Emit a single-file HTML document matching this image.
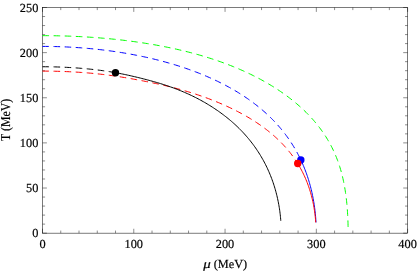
<!DOCTYPE html>
<html><head><meta charset="utf-8"><title>Phase diagram</title>
<style>
html,body{margin:0;padding:0;background:#fff;}
body{width:417px;height:272px;overflow:hidden;font-family:"Liberation Serif",serif;}
svg{display:block;will-change:transform;}
text{text-rendering:geometricPrecision;}
</style></head><body>
<svg width="417" height="272" viewBox="0 0 417 272">
<rect width="417" height="272" fill="#fff"/>
<rect x="42.5" y="7.5" width="365.10" height="225.65" fill="none" stroke="#000" stroke-width="0.52"/>
<g stroke="#000" stroke-width="0.45"><line x1="42.50" y1="233.15" x2="42.50" y2="228.75"/><line x1="42.50" y1="7.5" x2="42.50" y2="11.9"/><line x1="60.76" y1="233.15" x2="60.76" y2="230.55"/><line x1="60.76" y1="7.5" x2="60.76" y2="10.1"/><line x1="79.01" y1="233.15" x2="79.01" y2="230.55"/><line x1="79.01" y1="7.5" x2="79.01" y2="10.1"/><line x1="97.27" y1="233.15" x2="97.27" y2="230.55"/><line x1="97.27" y1="7.5" x2="97.27" y2="10.1"/><line x1="115.52" y1="233.15" x2="115.52" y2="230.55"/><line x1="115.52" y1="7.5" x2="115.52" y2="10.1"/><line x1="133.78" y1="233.15" x2="133.78" y2="228.75"/><line x1="133.78" y1="7.5" x2="133.78" y2="11.9"/><line x1="152.03" y1="233.15" x2="152.03" y2="230.55"/><line x1="152.03" y1="7.5" x2="152.03" y2="10.1"/><line x1="170.29" y1="233.15" x2="170.29" y2="230.55"/><line x1="170.29" y1="7.5" x2="170.29" y2="10.1"/><line x1="188.54" y1="233.15" x2="188.54" y2="230.55"/><line x1="188.54" y1="7.5" x2="188.54" y2="10.1"/><line x1="206.80" y1="233.15" x2="206.80" y2="230.55"/><line x1="206.80" y1="7.5" x2="206.80" y2="10.1"/><line x1="225.05" y1="233.15" x2="225.05" y2="228.75"/><line x1="225.05" y1="7.5" x2="225.05" y2="11.9"/><line x1="243.31" y1="233.15" x2="243.31" y2="230.55"/><line x1="243.31" y1="7.5" x2="243.31" y2="10.1"/><line x1="261.56" y1="233.15" x2="261.56" y2="230.55"/><line x1="261.56" y1="7.5" x2="261.56" y2="10.1"/><line x1="279.82" y1="233.15" x2="279.82" y2="230.55"/><line x1="279.82" y1="7.5" x2="279.82" y2="10.1"/><line x1="298.07" y1="233.15" x2="298.07" y2="230.55"/><line x1="298.07" y1="7.5" x2="298.07" y2="10.1"/><line x1="316.33" y1="233.15" x2="316.33" y2="228.75"/><line x1="316.33" y1="7.5" x2="316.33" y2="11.9"/><line x1="334.58" y1="233.15" x2="334.58" y2="230.55"/><line x1="334.58" y1="7.5" x2="334.58" y2="10.1"/><line x1="352.84" y1="233.15" x2="352.84" y2="230.55"/><line x1="352.84" y1="7.5" x2="352.84" y2="10.1"/><line x1="371.09" y1="233.15" x2="371.09" y2="230.55"/><line x1="371.09" y1="7.5" x2="371.09" y2="10.1"/><line x1="389.35" y1="233.15" x2="389.35" y2="230.55"/><line x1="389.35" y1="7.5" x2="389.35" y2="10.1"/><line x1="407.60" y1="233.15" x2="407.60" y2="228.75"/><line x1="407.60" y1="7.5" x2="407.60" y2="11.9"/><line x1="42.5" y1="233.15" x2="46.9" y2="233.15"/><line x1="407.6" y1="233.15" x2="403.20000000000005" y2="233.15"/><line x1="42.5" y1="224.12" x2="45.1" y2="224.12"/><line x1="407.6" y1="224.12" x2="405.0" y2="224.12"/><line x1="42.5" y1="215.10" x2="45.1" y2="215.10"/><line x1="407.6" y1="215.10" x2="405.0" y2="215.10"/><line x1="42.5" y1="206.07" x2="45.1" y2="206.07"/><line x1="407.6" y1="206.07" x2="405.0" y2="206.07"/><line x1="42.5" y1="197.05" x2="45.1" y2="197.05"/><line x1="407.6" y1="197.05" x2="405.0" y2="197.05"/><line x1="42.5" y1="188.02" x2="46.9" y2="188.02"/><line x1="407.6" y1="188.02" x2="403.20000000000005" y2="188.02"/><line x1="42.5" y1="178.99" x2="45.1" y2="178.99"/><line x1="407.6" y1="178.99" x2="405.0" y2="178.99"/><line x1="42.5" y1="169.97" x2="45.1" y2="169.97"/><line x1="407.6" y1="169.97" x2="405.0" y2="169.97"/><line x1="42.5" y1="160.94" x2="45.1" y2="160.94"/><line x1="407.6" y1="160.94" x2="405.0" y2="160.94"/><line x1="42.5" y1="151.92" x2="45.1" y2="151.92"/><line x1="407.6" y1="151.92" x2="405.0" y2="151.92"/><line x1="42.5" y1="142.89" x2="46.9" y2="142.89"/><line x1="407.6" y1="142.89" x2="403.20000000000005" y2="142.89"/><line x1="42.5" y1="133.86" x2="45.1" y2="133.86"/><line x1="407.6" y1="133.86" x2="405.0" y2="133.86"/><line x1="42.5" y1="124.84" x2="45.1" y2="124.84"/><line x1="407.6" y1="124.84" x2="405.0" y2="124.84"/><line x1="42.5" y1="115.81" x2="45.1" y2="115.81"/><line x1="407.6" y1="115.81" x2="405.0" y2="115.81"/><line x1="42.5" y1="106.79" x2="45.1" y2="106.79"/><line x1="407.6" y1="106.79" x2="405.0" y2="106.79"/><line x1="42.5" y1="97.76" x2="46.9" y2="97.76"/><line x1="407.6" y1="97.76" x2="403.20000000000005" y2="97.76"/><line x1="42.5" y1="88.73" x2="45.1" y2="88.73"/><line x1="407.6" y1="88.73" x2="405.0" y2="88.73"/><line x1="42.5" y1="79.71" x2="45.1" y2="79.71"/><line x1="407.6" y1="79.71" x2="405.0" y2="79.71"/><line x1="42.5" y1="70.68" x2="45.1" y2="70.68"/><line x1="407.6" y1="70.68" x2="405.0" y2="70.68"/><line x1="42.5" y1="61.66" x2="45.1" y2="61.66"/><line x1="407.6" y1="61.66" x2="405.0" y2="61.66"/><line x1="42.5" y1="52.63" x2="46.9" y2="52.63"/><line x1="407.6" y1="52.63" x2="403.20000000000005" y2="52.63"/><line x1="42.5" y1="43.60" x2="45.1" y2="43.60"/><line x1="407.6" y1="43.60" x2="405.0" y2="43.60"/><line x1="42.5" y1="34.58" x2="45.1" y2="34.58"/><line x1="407.6" y1="34.58" x2="405.0" y2="34.58"/><line x1="42.5" y1="25.55" x2="45.1" y2="25.55"/><line x1="407.6" y1="25.55" x2="405.0" y2="25.55"/><line x1="42.5" y1="16.53" x2="45.1" y2="16.53"/><line x1="407.6" y1="16.53" x2="405.0" y2="16.53"/><line x1="42.5" y1="7.50" x2="46.9" y2="7.50"/><line x1="407.6" y1="7.50" x2="403.20000000000005" y2="7.50"/></g>
<path d="M42.50,35.66 L44.07,35.66 L45.64,35.66 L47.21,35.67 L48.78,35.68 L50.35,35.70 L51.92,35.72 L53.49,35.74 L55.06,35.76 L56.62,35.79 L58.19,35.82 L59.76,35.86 L61.33,35.90 L62.90,35.94 L64.47,35.98 L66.04,36.03 L67.61,36.08 L69.18,36.14 L70.74,36.20 L72.31,36.26 L73.88,36.33 L75.45,36.40 L77.02,36.47 L78.58,36.54 L80.15,36.62 L81.72,36.71 L83.29,36.79 L84.85,36.88 L86.42,36.98 L87.99,37.07 L89.55,37.17 L91.12,37.28 L92.68,37.39 L94.25,37.50 L95.81,37.61 L97.38,37.73 L98.94,37.85 L100.51,37.98 L102.07,38.11 L103.64,38.24 L105.20,38.38 L106.76,38.52 L108.33,38.66 L109.89,38.81 L111.45,38.96 L113.01,39.12 L114.57,39.28 L116.13,39.44 L117.70,39.61 L119.26,39.78 L120.81,39.96 L122.37,40.14 L123.93,40.32 L125.49,40.51 L127.05,40.70 L128.61,40.90 L130.16,41.10 L131.72,41.30 L133.27,41.51 L134.83,41.72 L136.38,41.94 L137.94,42.16 L139.49,42.39 L141.04,42.62 L142.60,42.85 L144.15,43.09 L145.70,43.34 L147.25,43.58 L148.80,43.84 L150.34,44.09 L151.89,44.36 L153.44,44.62 L154.98,44.89 L156.53,45.17 L158.07,45.45 L159.62,45.74 L161.16,46.03 L162.70,46.32 L164.24,46.62 L165.78,46.93 L167.32,47.24 L168.86,47.55 L170.39,47.87 L171.93,48.20 L173.46,48.53 L174.99,48.87 L176.53,49.21 L178.06,49.56 L179.59,49.91 L181.11,50.27 L182.64,50.63 L184.17,51.00 L185.69,51.38 L187.21,51.76 L188.73,52.15 L190.25,52.54 L191.77,52.94 L193.29,53.34 L194.80,53.75 L196.32,54.17 L197.83,54.59 L199.34,55.02 L200.85,55.45 L202.35,55.89 L203.86,56.34 L205.36,56.80 L206.86,57.26 L208.36,57.72 L209.85,58.19 L211.35,58.67 L212.84,59.16 L214.33,59.65 L215.82,60.15 L217.30,60.66 L218.79,61.17 L220.27,61.69 L221.75,62.22 L223.22,62.76 L224.70,63.30 L226.17,63.85 L227.63,64.40 L229.10,64.97 L230.56,65.54 L232.02,66.12 L233.47,66.70 L234.93,67.30 L236.38,67.90 L237.82,68.50 L239.27,69.12 L240.71,69.75 L242.14,70.38 L243.58,71.02 L245.01,71.67 L246.43,72.32 L247.85,72.99 L249.27,73.66 L250.69,74.34 L252.10,75.03 L253.50,75.73 L254.91,76.43 L256.30,77.14 L257.70,77.87 L259.08,78.60 L260.47,79.34 L261.85,80.09 L263.22,80.85 L264.59,81.61 L265.96,82.39 L267.32,83.17 L268.67,83.97 L270.02,84.77 L271.36,85.58 L272.70,86.40 L274.03,87.23 L275.36,88.07 L276.68,88.92 L277.99,89.78 L279.30,90.65 L280.60,91.53 L281.89,92.42 L283.18,93.32 L284.46,94.22 L285.73,95.14 L287.00,96.07 L288.25,97.01 L289.50,97.96 L290.75,98.92 L291.98,99.89 L293.21,100.87 L294.42,101.86 L295.63,102.86 L296.83,103.87 L298.02,104.89 L299.21,105.93 L300.38,106.97 L301.54,108.02 L302.69,109.09 L303.83,110.17 L304.96,111.26 L306.09,112.35 L307.19,113.46 L308.29,114.59 L309.38,115.72 L310.45,116.86 L311.52,118.02 L312.57,119.18 L313.61,120.36 L314.63,121.55 L315.64,122.75 L316.64,123.96 L317.62,125.18 L318.59,126.42 L319.55,127.66 L320.49,128.92 L321.42,130.18 L322.33,131.46 L323.23,132.75 L324.11,134.05 L324.97,135.36 L325.82,136.68 L326.65,138.01 L327.47,139.35 L328.27,140.70 L329.05,142.06 L329.81,143.43 L330.56,144.81 L331.29,146.20 L332.01,147.60 L332.70,149.01 L333.38,150.42 L334.04,151.85 L334.68,153.28 L335.31,154.72 L335.91,156.17 L336.50,157.62 L337.07,159.08 L337.63,160.55 L338.16,162.03 L338.68,163.51 L339.18,164.99 L339.67,166.49 L340.13,167.99 L340.58,169.49 L341.02,171.00 L341.43,172.51 L341.84,174.03 L342.22,175.55 L342.59,177.07 L342.95,178.60 L343.29,180.14 L343.61,181.67 L343.92,183.21 L344.22,184.75 L344.50,186.29 L344.77,187.84 L345.03,189.39 L345.28,190.94 L345.51,192.49 L345.73,194.04 L345.94,195.60 L346.13,197.16 L346.32,198.72 L346.49,200.28 L346.66,201.84 L346.81,203.40 L346.96,204.96 L347.09,206.52 L347.22,208.09 L347.34,209.65 L347.44,211.22 L347.54,212.79 L347.63,214.35 L347.72,215.92 L347.79,217.49 L347.86,219.06 L347.92,220.62 L347.97,222.19 L348.02,223.76 L348.05,225.33 L348.08,226.90" fill="none" stroke="#00ff00" stroke-width="1.0" stroke-dasharray="6.565 4.545"/><path d="M42.50,46.41 L44.00,46.41 L45.50,46.42 L47.00,46.43 L48.50,46.44 L49.99,46.46 L51.49,46.49 L52.99,46.51 L54.49,46.55 L55.99,46.58 L57.49,46.62 L58.98,46.67 L60.48,46.72 L61.98,46.77 L63.48,46.83 L64.98,46.89 L66.47,46.96 L67.97,47.03 L69.47,47.11 L70.96,47.19 L72.46,47.27 L73.96,47.36 L75.45,47.46 L76.95,47.55 L78.44,47.66 L79.94,47.76 L81.43,47.87 L82.93,47.99 L84.42,48.11 L85.91,48.24 L87.41,48.36 L88.90,48.50 L90.39,48.64 L91.88,48.78 L93.38,48.93 L94.87,49.08 L96.36,49.23 L97.85,49.39 L99.34,49.56 L100.83,49.73 L102.32,49.90 L103.80,50.08 L105.29,50.27 L106.78,50.46 L108.26,50.65 L109.75,50.85 L111.23,51.05 L112.72,51.26 L114.20,51.47 L115.69,51.69 L117.17,51.91 L118.65,52.14 L120.13,52.37 L121.61,52.60 L123.09,52.85 L124.57,53.09 L126.05,53.34 L127.52,53.60 L129.00,53.86 L130.47,54.13 L131.95,54.40 L133.42,54.67 L134.89,54.96 L136.36,55.24 L137.83,55.53 L139.30,55.83 L140.77,56.13 L142.24,56.44 L143.70,56.75 L145.17,57.07 L146.63,57.39 L148.09,57.72 L149.56,58.06 L151.02,58.40 L152.47,58.74 L153.93,59.09 L155.39,59.45 L156.84,59.81 L158.30,60.18 L159.75,60.55 L161.20,60.93 L162.65,61.31 L164.09,61.70 L165.54,62.10 L166.98,62.50 L168.42,62.91 L169.87,63.32 L171.30,63.74 L172.74,64.17 L174.18,64.60 L175.61,65.03 L177.04,65.48 L178.47,65.93 L179.90,66.39 L181.32,66.85 L182.75,67.32 L184.17,67.79 L185.59,68.28 L187.01,68.76 L188.42,69.26 L189.83,69.76 L191.24,70.27 L192.65,70.78 L194.05,71.31 L195.46,71.84 L196.86,72.37 L198.25,72.91 L199.65,73.46 L201.04,74.02 L202.43,74.58 L203.81,75.16 L205.20,75.74 L206.58,76.32 L207.95,76.91 L209.33,77.52 L210.70,78.12 L212.06,78.74 L213.42,79.36 L214.78,79.99 L216.14,80.63 L217.49,81.28 L218.84,81.94 L220.18,82.60 L221.52,83.27 L222.86,83.95 L224.19,84.64 L225.52,85.33 L226.84,86.04 L228.16,86.75 L229.48,87.47 L230.78,88.20 L232.09,88.94 L233.39,89.68 L234.68,90.44 L235.97,91.20 L237.26,91.98 L238.54,92.76 L239.81,93.55 L241.08,94.35 L242.34,95.16 L243.59,95.98 L244.84,96.81 L246.08,97.64 L247.32,98.49 L248.55,99.35 L249.77,100.21 L250.99,101.09 L252.20,101.97 L253.40,102.87 L254.60,103.77 L255.79,104.69 L256.97,105.61 L258.14,106.54 L259.30,107.49 L260.46,108.44 L261.61,109.40 L262.75,110.38 L263.88,111.36 L265.00,112.35 L266.11,113.36 L267.22,114.37 L268.31,115.39 L269.40,116.43 L270.48,117.47 L271.54,118.53 L272.60,119.59 L273.64,120.66 L274.68,121.75 L275.70,122.84 L276.72,123.94 L277.72,125.06 L278.71,126.18 L279.69,127.31 L280.66,128.46 L281.62,129.61 L282.57,130.77 L283.50,131.94 L284.43,133.12 L285.34,134.31 L286.23,135.51 L287.12,136.72 L287.99,137.94 L288.85,139.17 L289.70,140.40 L290.54,141.65 L291.36,142.90 L292.17,144.16 L292.96,145.43 L293.75,146.71 L294.52,148.00 L295.27,149.29 L296.01,150.60 L296.74,151.91 L297.46,153.22 L298.16,154.55 L298.85,155.88 L299.52,157.22 L300.18,158.56 L300.83,159.92" fill="none" stroke="#0000ff" stroke-width="1.0" stroke-dasharray="6.545 4.531"/><path d="M300.83,159.92 L301.46,161.28 L302.08,162.65 L302.69,164.03 L303.28,165.41 L303.86,166.80 L304.43,168.19 L304.98,169.59 L305.51,171.00 L306.04,172.41 L306.55,173.83 L307.04,175.25 L307.53,176.67 L307.99,178.10 L308.45,179.54 L308.89,180.97 L309.32,182.42 L309.73,183.86 L310.13,185.31 L310.52,186.77 L310.90,188.23 L311.26,189.69 L311.61,191.15 L311.94,192.62 L312.26,194.09 L312.57,195.56 L312.87,197.03 L313.15,198.51 L313.42,199.99 L313.68,201.47 L313.93,202.96 L314.16,204.45 L314.38,205.93 L314.59,207.42 L314.79,208.92 L314.97,210.41 L315.14,211.90 L315.30,213.40 L315.45,214.90 L315.59,216.40 L315.71,217.90 L315.82,219.40 L315.92,220.90 L316.01,222.40" fill="none" stroke="#0000ff" stroke-width="1.0"/><path d="M42.50,71.10 L44.00,71.10 L45.49,71.11 L46.99,71.12 L48.49,71.13 L49.99,71.15 L51.48,71.17 L52.98,71.20 L54.48,71.22 L55.97,71.26 L57.47,71.30 L58.97,71.34 L60.46,71.38 L61.96,71.43 L63.45,71.49 L64.95,71.54 L66.45,71.61 L67.94,71.67 L69.44,71.74 L70.93,71.82 L72.43,71.89 L73.92,71.97 L75.42,72.06 L76.91,72.15 L78.40,72.24 L79.90,72.34 L81.39,72.45 L82.89,72.55 L84.38,72.67 L85.87,72.78 L87.36,72.90 L88.85,73.03 L90.35,73.16 L91.84,73.29 L93.33,73.43 L94.82,73.58 L96.31,73.73 L97.80,73.88 L99.28,74.04 L100.77,74.21 L102.26,74.38 L103.75,74.55 L105.23,74.74 L106.72,74.92 L108.20,75.11 L109.69,75.31 L111.17,75.51 L112.65,75.72 L114.14,75.93 L115.62,76.15 L117.10,76.37 L118.58,76.59 L120.06,76.82 L121.53,77.06 L123.01,77.30 L124.49,77.54 L125.97,77.79 L127.44,78.04 L128.92,78.30 L130.39,78.56 L131.86,78.82 L133.34,79.09 L134.81,79.36 L136.28,79.63 L137.75,79.90 L139.23,80.18 L140.70,80.46 L142.17,80.75 L143.64,81.03 L145.10,81.32 L146.57,81.61 L148.04,81.90 L149.51,82.20 L150.98,82.50 L152.44,82.80 L153.91,83.11 L155.37,83.42 L156.84,83.73 L158.30,84.05 L159.76,84.37 L161.22,84.70 L162.68,85.03 L164.14,85.37 L165.60,85.71 L167.05,86.06 L168.51,86.41 L169.96,86.77 L171.41,87.13 L172.87,87.50 L174.31,87.87 L175.76,88.25 L177.21,88.64 L178.65,89.03 L180.10,89.43 L181.54,89.83 L182.98,90.24 L184.42,90.66 L185.85,91.08 L187.29,91.51 L188.72,91.94 L190.15,92.38 L191.58,92.83 L193.01,93.28 L194.43,93.74 L195.86,94.20 L197.28,94.67 L198.70,95.15 L200.11,95.63 L201.53,96.12 L202.94,96.62 L204.35,97.12 L205.76,97.63 L207.16,98.15 L208.56,98.67 L209.96,99.20 L211.36,99.74 L212.76,100.29 L214.15,100.84 L215.54,101.39 L216.92,101.96 L218.31,102.53 L219.69,103.11 L221.06,103.70 L222.44,104.29 L223.81,104.90 L225.18,105.51 L226.54,106.12 L227.90,106.75 L229.26,107.38 L230.61,108.02 L231.96,108.67 L233.30,109.33 L234.65,109.99 L235.98,110.67 L237.32,111.35 L238.64,112.04 L239.97,112.74 L241.29,113.45 L242.60,114.16 L243.91,114.89 L245.22,115.62 L246.51,116.37 L247.81,117.12 L249.10,117.88 L250.38,118.66 L251.65,119.44 L252.93,120.23 L254.19,121.03 L255.45,121.84 L256.70,122.67 L257.94,123.50 L259.18,124.34 L260.41,125.19 L261.63,126.06 L262.85,126.93 L264.05,127.82 L265.25,128.71 L266.44,129.62 L267.63,130.54 L268.80,131.47 L269.96,132.41 L271.12,133.37 L272.26,134.33 L273.40,135.31 L274.52,136.30 L275.63,137.30 L276.74,138.31 L277.83,139.34 L278.91,140.37 L279.98,141.42 L281.03,142.48 L282.08,143.55 L283.11,144.64 L284.13,145.73 L285.14,146.84 L286.13,147.96 L287.11,149.09 L288.08,150.23 L289.03,151.39 L289.97,152.56 L290.89,153.74 L291.80,154.93 L292.69,156.13 L293.57,157.34 L294.43,158.56 L295.28,159.80 L296.11,161.05 L296.92,162.30 L297.72,163.57" fill="none" stroke="#ff0000" stroke-width="1.0" stroke-dasharray="6.545 4.531"/><path d="M297.72,163.57 L298.51,164.86 L299.28,166.17 L300.03,167.48 L300.77,168.81 L301.49,170.14 L302.19,171.48 L302.88,172.84 L303.54,174.20 L304.19,175.57 L304.82,176.95 L305.43,178.33 L306.03,179.73 L306.60,181.13 L307.16,182.54 L307.70,183.96 L308.22,185.38 L308.72,186.81 L309.21,188.25 L309.68,189.69 L310.13,191.13 L310.56,192.59 L310.98,194.05 L311.37,195.51 L311.75,196.98 L312.12,198.45 L312.47,199.92 L312.80,201.40 L313.11,202.88 L313.41,204.37 L313.69,205.86 L313.95,207.35 L314.20,208.85 L314.43,210.35 L314.65,211.85 L314.85,213.35 L315.03,214.85 L315.20,216.36 L315.36,217.87 L315.50,219.38 L315.62,220.89 L315.74,222.40" fill="none" stroke="#ff0000" stroke-width="1.0"/><path d="M42.50,66.74 L44.00,66.74 L45.49,66.75 L46.99,66.76 L48.48,66.77 L49.98,66.80 L51.48,66.82 L52.97,66.85 L54.47,66.89 L55.96,66.93 L57.46,66.97 L58.95,67.02 L60.45,67.07 L61.94,67.13 L63.44,67.20 L64.93,67.26 L66.43,67.34 L67.92,67.41 L69.41,67.50 L70.91,67.58 L72.40,67.68 L73.89,67.77 L75.38,67.87 L76.88,67.98 L78.37,68.09 L79.86,68.21 L81.35,68.33 L82.84,68.46 L84.33,68.59 L85.82,68.72 L87.31,68.87 L88.80,69.01 L90.29,69.17 L91.77,69.32 L93.26,69.49 L94.75,69.66 L96.23,69.83 L97.72,70.01 L99.20,70.20 L100.69,70.39 L102.17,70.59 L103.65,70.79 L105.13,71.01 L106.61,71.22 L108.09,71.45 L109.57,71.68 L111.05,71.92 L112.52,72.17 L114.00,72.42 L115.47,72.68" fill="none" stroke="#000000" stroke-width="1.0" stroke-dasharray="6.545 4.531"/><path d="M115.47,72.68 L116.94,72.95 L118.42,73.22 L119.89,73.50 L121.36,73.79 L122.83,74.09 L124.30,74.39 L125.76,74.70 L127.23,75.01 L128.69,75.33 L130.16,75.66 L131.62,75.99 L133.08,76.33 L134.54,76.67 L136.00,77.02 L137.45,77.37 L138.91,77.73 L140.36,78.09 L141.82,78.45 L143.27,78.82 L144.72,79.19 L146.17,79.57 L147.62,79.95 L149.07,80.34 L150.52,80.73 L151.96,81.13 L153.40,81.53 L154.85,81.94 L156.29,82.35 L157.73,82.77 L159.16,83.20 L160.60,83.64 L162.03,84.08 L163.46,84.53 L164.88,84.99 L166.31,85.46 L167.73,85.93 L169.15,86.42 L170.56,86.91 L171.97,87.41 L173.38,87.93 L174.79,88.45 L176.19,88.98 L177.59,89.52 L178.98,90.07 L180.37,90.63 L181.76,91.20 L183.14,91.78 L184.52,92.36 L185.89,92.96 L187.26,93.57 L188.63,94.19 L189.99,94.82 L191.34,95.46 L192.70,96.11 L194.04,96.77 L195.38,97.44 L196.72,98.12 L198.05,98.81 L199.37,99.51 L200.69,100.22 L202.00,100.95 L203.31,101.68 L204.61,102.42 L205.91,103.17 L207.20,103.94 L208.48,104.71 L209.76,105.50 L211.03,106.29 L212.29,107.10 L213.55,107.91 L214.80,108.74 L216.04,109.58 L217.28,110.42 L218.51,111.28 L219.73,112.15 L220.95,113.03 L222.15,113.92 L223.35,114.81 L224.54,115.72 L225.73,116.64 L226.90,117.57 L228.07,118.52 L229.23,119.47 L230.38,120.43 L231.52,121.40 L232.64,122.39 L233.77,123.38 L234.88,124.39 L235.98,125.41 L237.07,126.44 L238.15,127.47 L239.22,128.52 L240.27,129.59 L241.32,130.66 L242.36,131.74 L243.38,132.84 L244.40,133.94 L245.40,135.05 L246.39,136.18 L247.37,137.32 L248.33,138.46 L249.28,139.62 L250.23,140.78 L251.15,141.96 L252.07,143.15 L252.98,144.34 L253.87,145.55 L254.74,146.76 L255.61,147.99 L256.46,149.22 L257.29,150.46 L258.12,151.72 L258.93,152.98 L259.73,154.25 L260.51,155.53 L261.28,156.81 L262.03,158.11 L262.77,159.41 L263.50,160.72 L264.21,162.04 L264.90,163.37 L265.59,164.70 L266.25,166.04 L266.91,167.39 L267.55,168.75 L268.17,170.11 L268.78,171.48 L269.38,172.86 L269.96,174.24 L270.52,175.63 L271.07,177.02 L271.61,178.42 L272.13,179.83 L272.64,181.24 L273.13,182.65 L273.60,184.07 L274.07,185.50 L274.51,186.93 L274.95,188.36 L275.36,189.80 L275.77,191.25 L276.15,192.70 L276.53,194.15 L276.89,195.60 L277.23,197.06 L277.56,198.52 L277.87,199.99 L278.18,201.46 L278.46,202.93 L278.73,204.40 L278.99,205.88 L279.24,207.36 L279.47,208.84 L279.68,210.32 L279.88,211.81 L280.07,213.29 L280.25,214.78 L280.40,216.27 L280.55,217.76 L280.68,219.26 L280.80,220.75" fill="none" stroke="#000000" stroke-width="1.0"/>
<circle cx="115.47" cy="72.68" r="3.7" fill="#000"/><circle cx="300.83" cy="159.92" r="3.7" fill="#0000ff"/><circle cx="297.72" cy="163.57" r="3.7" fill="#ff0000"/>
<g font-family="Liberation Serif, serif" font-size="12.3" fill="#000" stroke="#000" stroke-width="0.18"><text x="42.50" y="248.3" text-anchor="middle">0</text><text x="133.78" y="248.3" text-anchor="middle">100</text><text x="225.05" y="248.3" text-anchor="middle">200</text><text x="316.33" y="248.3" text-anchor="middle">300</text><text x="407.60" y="248.3" text-anchor="middle">400</text><text x="38.3" y="237.25" text-anchor="end">0</text><text x="38.3" y="192.12" text-anchor="end">50</text><text x="38.3" y="146.99" text-anchor="end">100</text><text x="38.3" y="101.86" text-anchor="end">150</text><text x="38.3" y="56.73" text-anchor="end">200</text><text x="38.3" y="11.60" text-anchor="end">250</text><text transform="translate(203.3,267.8) scale(1.22,1)" font-style="italic">μ</text><text x="213.7" y="267.8">(MeV)</text><text transform="translate(9.6,119.92) rotate(-90) scale(0.96,1.1)" text-anchor="middle" stroke-width="0.16">T (MeV)</text></g>
</svg>
</body></html>
